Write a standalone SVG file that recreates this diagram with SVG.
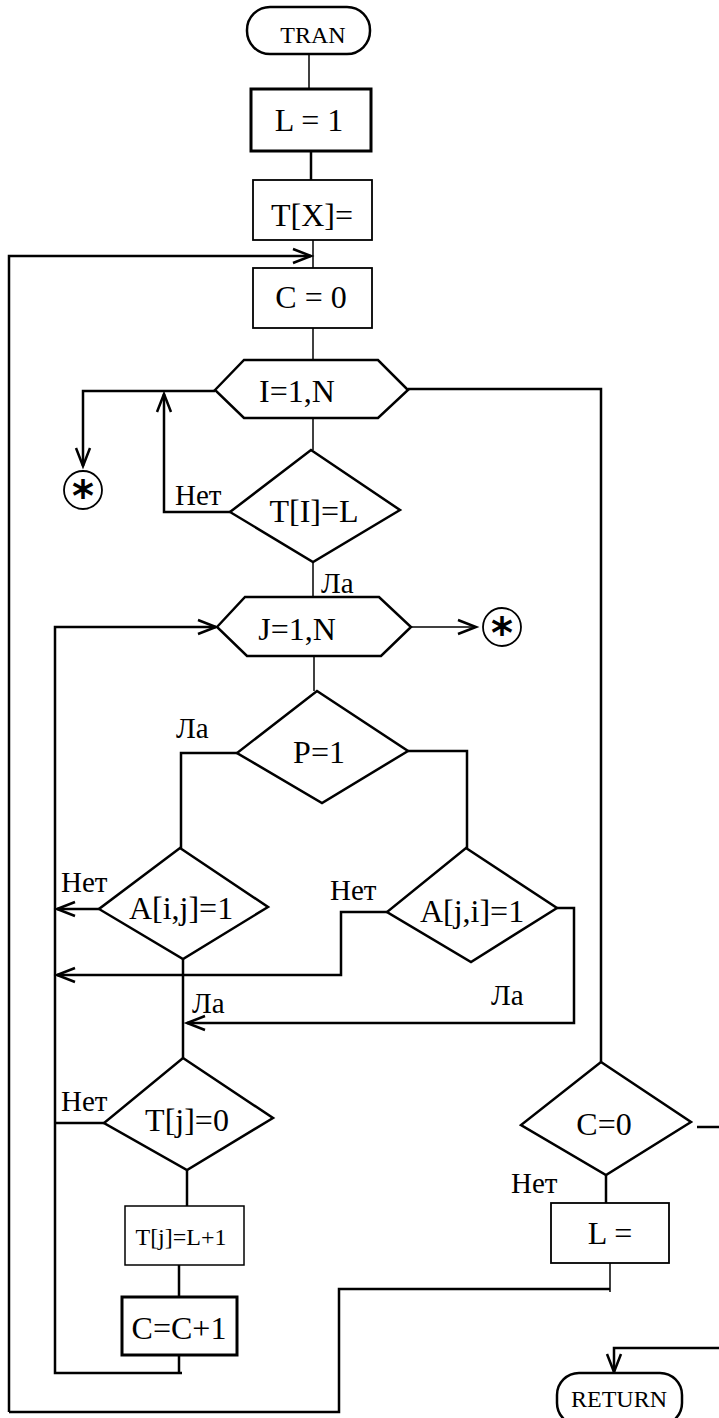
<svg xmlns="http://www.w3.org/2000/svg" width="719" height="1418" viewBox="0 0 719 1418">
<defs>
<marker id="arr" markerUnits="userSpaceOnUse" markerWidth="24" markerHeight="20" refX="0" refY="0" viewBox="-20 -10 24 20" orient="auto" overflow="visible">
<path d="M-18,-7 L0,0 L-18,7" fill="none" stroke="#000" stroke-width="2.5"/>
</marker>
<style>
.shape{fill:#fff;stroke:#000;stroke-width:2.5}
.thin{fill:#fff;stroke:#000;stroke-width:1.8}
.ln{fill:none;stroke:#000;stroke-width:2.5}
.tl{fill:none;stroke:#000;stroke-width:1.5}
.t{font-family:"Liberation Serif","Times New Roman",serif;font-size:32px;fill:#000;text-anchor:middle}
.lb{font-family:"Liberation Serif","Times New Roman",serif;font-size:29px;fill:#000}
.ast{font-family:"DejaVu Sans",sans-serif;font-size:42px;font-weight:bold;fill:#000;text-anchor:middle}
</style>
</defs>
<rect width="719" height="1418" fill="#fff"/>
<g id="connectors">
<line class="tl" x1="309" y1="54" x2="309" y2="89"/>
<line class="ln" x1="311" y1="151" x2="311" y2="180"/>
<line class="tl" x1="313" y1="240" x2="313" y2="268"/>
<polyline class="ln" points="9,1412 9,256 311,256" marker-end="url(#arr)"/>
<line class="tl" x1="313" y1="328" x2="313" y2="360"/>
<polyline class="ln" points="215,391 83,391 83,466" marker-end="url(#arr)"/>
<polyline class="ln" points="408,389 601,389 601,1062"/>
<line class="tl" x1="313" y1="418" x2="313" y2="450"/>
<polyline class="ln" points="230,512 164,512 164,394" marker-end="url(#arr)"/>
<line class="tl" x1="313" y1="562" x2="313" y2="597"/>
<line class="tl" x1="411" y1="627" x2="476" y2="627" marker-end="url(#arr)"/>
<polyline class="ln" points="182,1373 55,1373 55,627 216,627" marker-end="url(#arr)"/>
<line class="tl" x1="314" y1="656" x2="314" y2="691"/>
<polyline class="ln" points="237,753 181,753 181,848"/>
<polyline class="ln" points="408,751 467,751 467,848"/>
<line class="ln" x1="99" y1="909" x2="57" y2="909" marker-end="url(#arr)"/>
<polyline class="ln" points="387,912 341,912 341,975 57,975" marker-end="url(#arr)"/>
<polyline class="ln" points="557,908 574,908 574,1023 187,1023" marker-end="url(#arr)"/>
<line class="ln" x1="183" y1="959" x2="183" y2="1058"/>
<line class="ln" x1="104" y1="1123" x2="55" y2="1123"/>
<line class="ln" x1="187" y1="1170" x2="187" y2="1206"/>
<line class="ln" x1="179" y1="1260" x2="179" y2="1297"/>
<line class="ln" x1="179" y1="1355" x2="179" y2="1373"/>
<line class="ln" x1="697" y1="1127" x2="719" y2="1127"/>
<line class="ln" x1="606" y1="1175" x2="606" y2="1203"/>
<line class="tl" x1="610" y1="1263" x2="610" y2="1292"/>
<polyline class="ln" points="610,1289 339,1289 339,1412 9,1412"/>
<polyline class="ln" points="719,1348 614,1348 614,1372" marker-end="url(#arr)"/>
</g>
<g id="n-tran">
<rect class="shape" x="247" y="7" width="123" height="47" rx="23"/>
<text class="t" x="313" y="43" style="font-size:24px">TRAN</text>
</g>
<g id="n-l1">
<rect class="shape" x="251" y="89" width="120" height="62" style="stroke-width:3"/>
<text class="t" x="309" y="131">L = 1</text>
</g>
<g id="n-tx">
<rect class="thin" x="253" y="180" width="119" height="60"/>
<text class="t" x="312" y="226">T[X]=</text>
</g>
<g id="n-c0">
<rect class="thin" x="253" y="268" width="119" height="60"/>
<text class="t" x="311" y="308">C = 0</text>
</g>
<g id="n-iloop">
<polygon class="shape" points="215,390 244,360 378,360 408,390 378,418 244,418"/>
<text class="t" x="297" y="402">I=1,N</text>
</g>
<g id="n-star1">
<circle class="thin" cx="83" cy="490" r="19"/>
<text class="ast" x="83" y="511">*</text>
</g>
<g id="n-til">
<polygon class="shape" points="311,450 400,510 313,562 230,512"/>
<text class="t" x="314" y="522">T[I]=L</text>
<text class="lb" x="175" y="505">Нет</text>
<text class="lb" x="321" y="593">Ла</text>
</g>
<g id="n-jloop">
<polygon class="shape" points="217,627 245,597 379,597 411,627 381,656 247,656"/>
<text class="t" x="297" y="640">J=1,N</text>
</g>
<g id="n-star2">
<circle class="thin" cx="502" cy="627" r="19"/>
<text class="ast" x="502" y="648">*</text>
</g>
<g id="n-p1">
<polygon class="shape" points="317,691 408,751 322,803 237,753"/>
<text class="t" x="319" y="763">P=1</text>
<text class="lb" x="176" y="738">Ла</text>
</g>
<g id="n-aij">
<polygon class="shape" points="180,848 268,907 183,959 99,909"/>
<text class="t" x="181" y="919">A[i,j]=1</text>
<text class="lb" x="61" y="892">Нет</text>
<text class="lb" x="192" y="1013">Ла</text>
</g>
<g id="n-aji">
<polygon class="shape" points="466,848 557,908 471,962 387,912"/>
<text class="t" x="472" y="922">A[j,i]=1</text>
<text class="lb" x="330" y="900">Нет</text>
<text class="lb" x="491" y="1005">Ла</text>
</g>
<g id="n-tj0">
<polygon class="shape" points="183,1058 273,1118 187,1170 104,1123"/>
<text class="t" x="187" y="1131">T[j]=0</text>
<text class="lb" x="61" y="1111">Нет</text>
</g>
<g id="n-tjl">
<rect class="thin" x="125" y="1206" width="119" height="59" style="stroke-width:1.5"/>
<text class="t" x="181" y="1245" style="font-size:24px">T[j]=L+1</text>
</g>
<g id="n-cc1">
<rect class="shape" x="122" y="1297" width="115" height="58" style="stroke-width:3"/>
<text class="t" x="179" y="1339">C=C+1</text>
</g>
<g id="n-c0d">
<polygon class="shape" points="601,1062 691,1122 606,1175 521,1125"/>
<text class="t" x="604" y="1135">C=0</text>
<text class="lb" x="511" y="1193">Нет</text>
</g>
<g id="n-lbox">
<rect class="thin" x="551" y="1203" width="118" height="60"/>
<text class="t" x="610" y="1244">L =</text>
</g>
<g id="n-return">
<rect class="shape" x="557" y="1373" width="125" height="52" rx="22"/>
<text class="t" x="619" y="1407" style="font-size:24px">RETURN</text>
</g>
</svg>
